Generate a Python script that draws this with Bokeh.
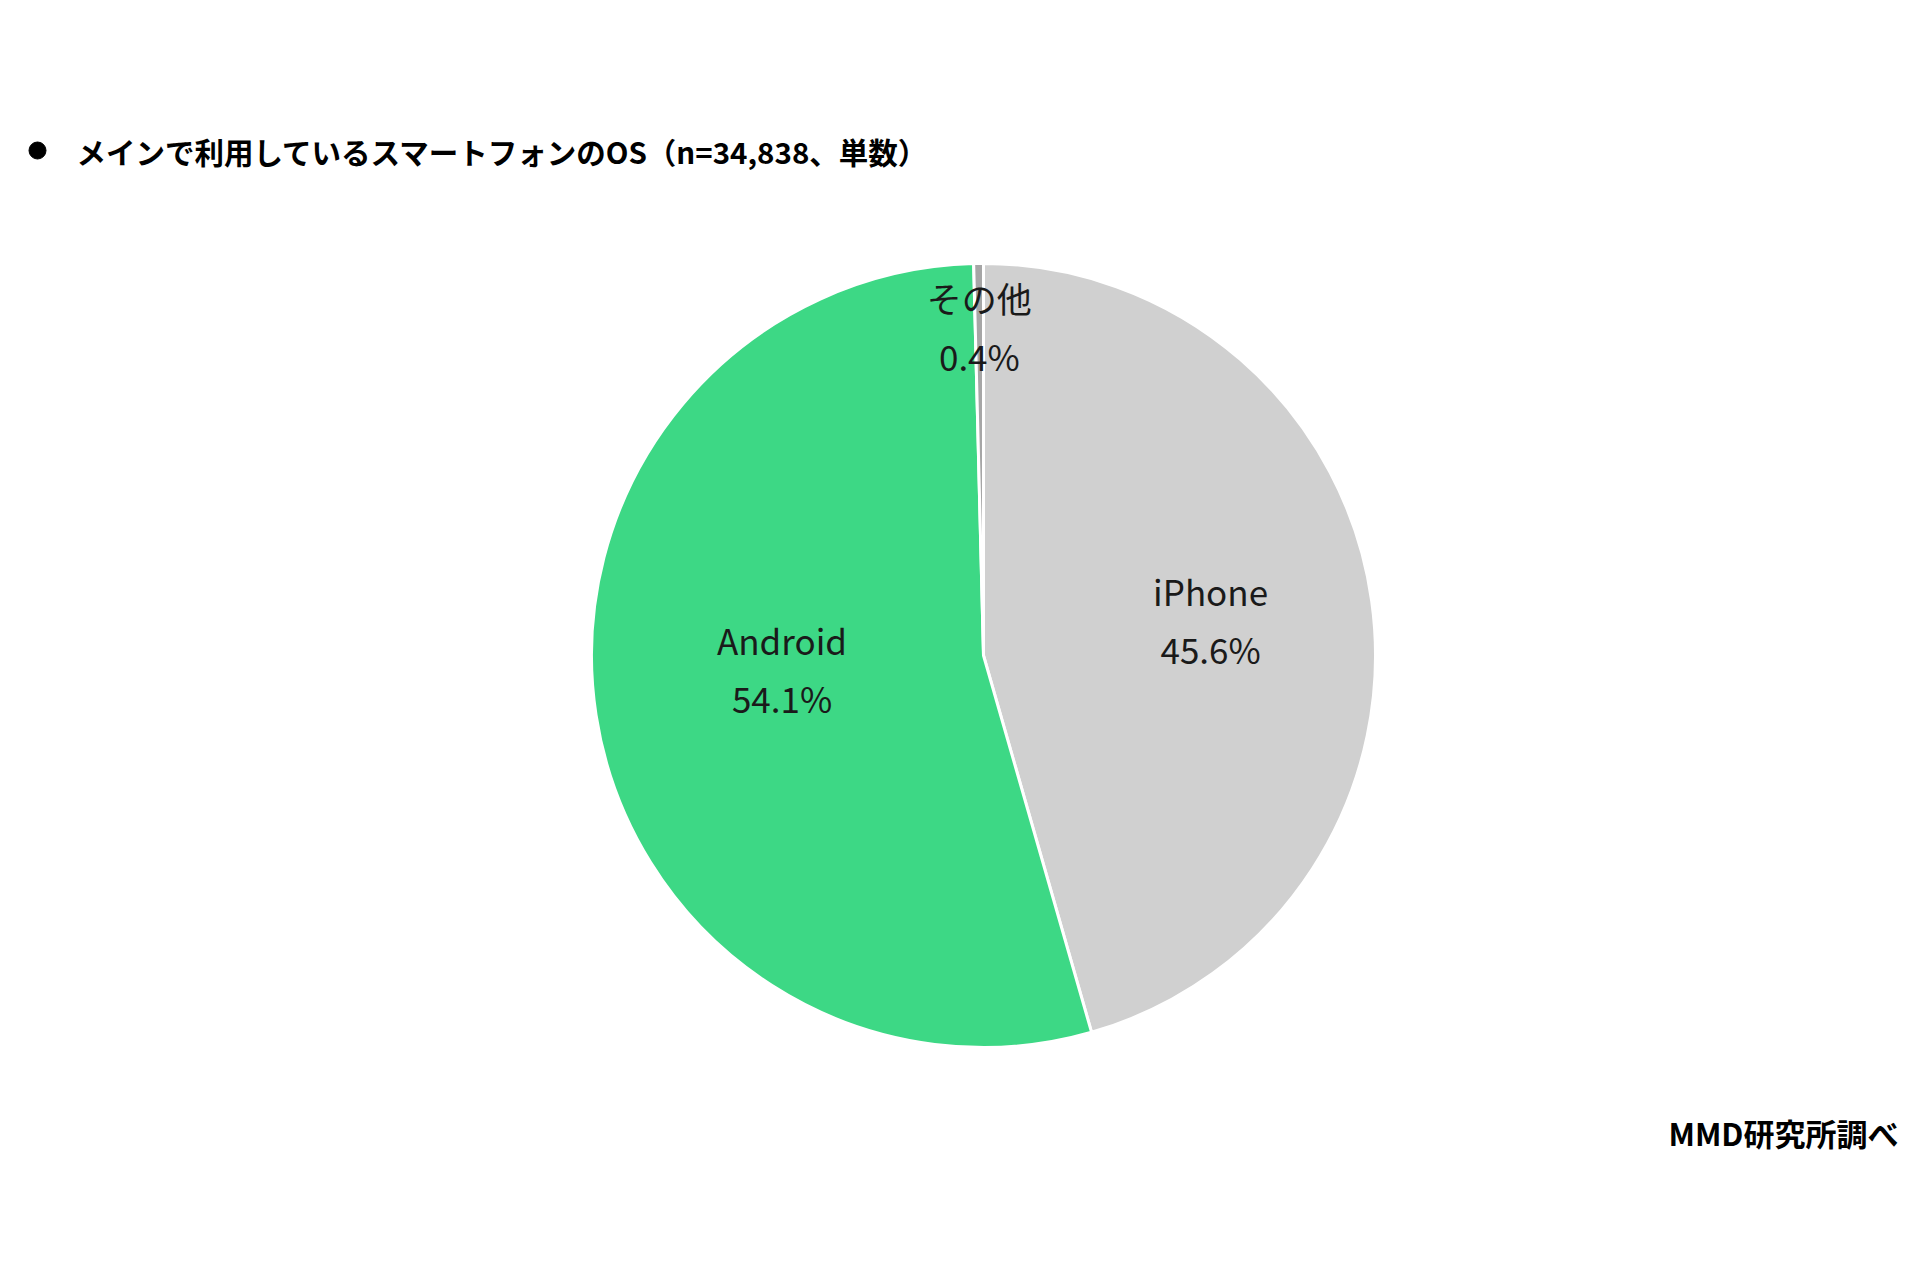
import numpy as np
from bokeh.plotting import figure
from bokeh.models import Range1d, ColumnDataSource
from bokeh.core.properties import value
from bokeh.embed import file_html
from bokeh.resources import INLINE

# データ
labels = ["iPhone", "Android", "その他"]
shares = [45.6, 54.1, 0.4]
colors = ["#D0D0D0", "#3DD885", "#A6A6A6"]
title_text = "メインで利用しているスマートフォンのOS（n=34,838、単数）"
source_text = "MMD研究所調べ"

W, H = 1904, 1264
cx, cy, R = 983, 609, 392

# 角度（上から時計回り）
frac = np.array(shares) / sum(shares)
ends = np.pi / 2 - 2 * np.pi * np.cumsum(frac)
starts = np.concatenate([[np.pi / 2], ends[:-1]])
mids = (starts + ends) / 2

# ラベル位置（半径に対する比率と微調整）
label_r = [0.585, 0.52, 0.84]
label_dy = [4, 18, 0]
lx = cx + R * np.array(label_r) * np.cos(mids)
ly = cy + R * np.array(label_r) * np.sin(mids) + np.array(label_dy)

src = ColumnDataSource(dict(
    start=starts, end=ends, color=colors,
    name=labels, pct=[f"{s:.1f}%" for s in shares],
    lx=lx, ly_top=ly + 29, ly_bot=ly - 29,
))

p = figure(width=W, height=H, x_range=Range1d(0, W), y_range=Range1d(0, H),
           output_backend="svg", toolbar_location=None, min_border=0)
p.axis.visible = False
p.grid.visible = False
p.outline_line_color = None
p.background_fill_color = "white"

p.wedge(x=cx, y=cy, radius=R, start_angle="end", end_angle="start",
        fill_color="color", line_color="white", line_width=3, source=src)

p.text(x="lx", y="ly_top", text="name", source=src, text_align="center",
       text_baseline="middle", text_font=value("Noto Sans CJK JP"),
       text_font_size="35px", text_color="#1a1a1a")
p.text(x="lx", y="ly_bot", text="pct", source=src, text_align="center",
       text_baseline="middle", text_font=value("Noto Sans CJK JP"),
       text_font_size="35px", text_color="#1a1a1a")

# タイトル
p.scatter(x=[37], y=[1114], size=17, color="black")
p.text(x=[76], y=[1114], text=[title_text], text_baseline="middle",
       text_font=value("Noto Sans CJK JP"), text_font_style="bold",
       text_font_size="29.5px", text_color="black")

# 出典
p.text(x=[1898], y=[132], text=[source_text], text_align="right",
       text_baseline="middle", text_font=value("Noto Sans CJK JP"),
       text_font_style="bold", text_font_size="31px", text_color="black")

open("out.html", "w").write(file_html(p, INLINE))
